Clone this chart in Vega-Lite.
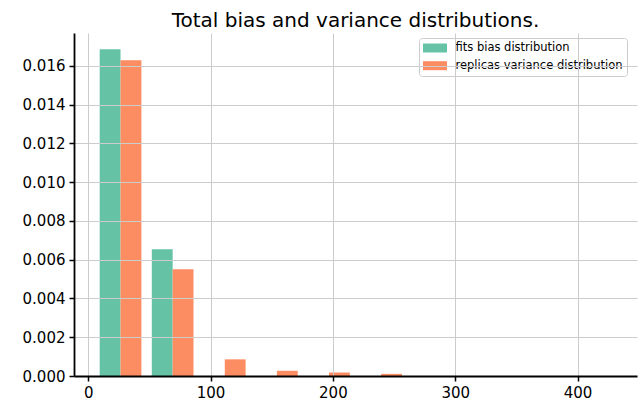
{
  "$schema": "https://vega.github.io/schema/vega-lite/v6.json",
  "width": 563,
  "height": 343,
  "autosize": {"type": "none"},
  "padding": {"left": 74, "top": 33, "right": 6, "bottom": 26},
  "title": {
    "text": "Total bias and variance distributions.",
    "font": "DejaVu Sans",
    "fontSize": 20,
    "fontWeight": "normal",
    "color": "black",
    "offset": 2,
    "anchor": "middle"
  },
  "data": {
    "values": [
      {"series": "fits bias distribution", "bar_start": 9.4, "bar_end": 26.44, "density": 0.01686},
      {"series": "fits bias distribution", "bar_start": 52.0, "bar_end": 69.04, "density": 0.00654},
      {"series": "replicas variance distribution", "bar_start": 26.44, "bar_end": 43.48, "density": 0.0163},
      {"series": "replicas variance distribution", "bar_start": 69.04, "bar_end": 86.08, "density": 0.00551},
      {"series": "replicas variance distribution", "bar_start": 111.64, "bar_end": 128.68, "density": 0.00086},
      {"series": "replicas variance distribution", "bar_start": 154.24, "bar_end": 171.28, "density": 0.00027},
      {"series": "replicas variance distribution", "bar_start": 196.84, "bar_end": 213.88, "density": 0.00018},
      {"series": "replicas variance distribution", "bar_start": 239.44, "bar_end": 256.48, "density": 0.00011}
    ]
  },
  "mark": {"type": "bar"},
  "encoding": {
    "x": {
      "field": "bar_start",
      "type": "quantitative",
      "scale": {"domain": [-11.6, 448.6], "nice": false, "zero": false},
      "axis": {"values": [0, 100, 200, 300, 400], "labelPadding": 4, "zindex": 1}
    },
    "x2": {"field": "bar_end"},
    "y": {
      "field": "density",
      "type": "quantitative",
      "scale": {"domain": [0, 0.0177], "nice": false},
      "axis": {
        "values": [0, 0.002, 0.004, 0.006, 0.008, 0.01, 0.012, 0.014, 0.016],
        "format": ".3f",
        "labelPadding": 4,
        "zindex": 1
      }
    },
    "y2": {"datum": 0},
    "color": {
      "field": "series",
      "type": "nominal",
      "scale": {
        "domain": ["fits bias distribution", "replicas variance distribution"],
        "range": ["#66c2a5", "#fc8d62"]
      },
      "legend": {
        "title": null,
        "orient": "none",
        "legendX": 345,
        "legendY": 5,
        "direction": "vertical",
        "symbolType": "M-2,-0.75H2V0.75H-2Z",
        "symbolSize": 144,
        "symbolStrokeWidth": 0,
        "symbolOffset": 6,
        "labelOffset": 14.5,
        "labelFont": "DejaVu Sans",
        "labelFontSize": 11.5,
        "labelLimit": 400,
        "labelColor": "black",
        "rowPadding": 5.7,
        "padding": 4,
        "strokeColor": "#cccccc",
        "fillColor": "rgba(255,255,255,0.8)",
        "cornerRadius": 3
      }
    }
  },
  "config": {
    "view": {"stroke": null},
    "axis": {
      "title": null,
      "labelFont": "DejaVu Sans",
      "labelFontSize": 15,
      "labelColor": "black",
      "domainColor": "black",
      "domainWidth": 1.8,
      "tickColor": "black",
      "tickWidth": 1.5,
      "tickSize": 5,
      "grid": true,
      "gridColor": "#cccccc",
      "gridWidth": 1
    }
  }
}
